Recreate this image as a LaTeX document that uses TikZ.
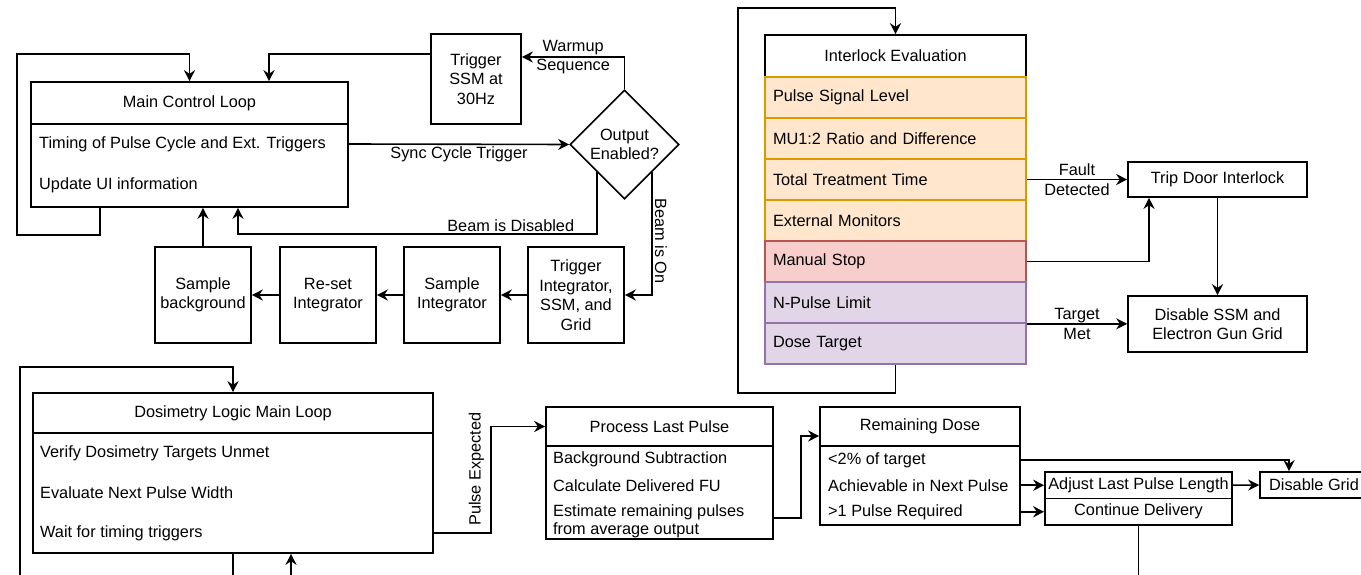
\documentclass[tikz,border=0pt]{standalone}
\usepackage{fontspec}
\setmainfont{Liberation Sans}
\usetikzlibrary{arrows.meta,shapes.geometric}

\definecolor{orfl}{HTML}{FFE6CC}
\definecolor{orln}{HTML}{D79B00}
\definecolor{rdfl}{HTML}{F8CECC}
\definecolor{rdln}{HTML}{B85450}
\definecolor{pufl}{HTML}{E1D5E7}
\definecolor{puln}{HTML}{9673A6}

\begin{document}
\begin{tikzpicture}[x=1pt, y=-1pt,
    font=\fontsize{16.3}{19.5}\selectfont,
    box/.style={draw, line width=1.6pt, inner sep=0pt, align=center},
    item/.style={anchor=west, inner sep=0pt},
    lbl/.style={inner sep=2pt, align=center},
    wire/.style={line width=1.6pt},
    arr/.style={line width=1.6pt, -{Stealth[length=11pt,width=11pt]}},
    ilrow/.style={draw, line width=1.6pt, minimum height=41pt, inner xsep=8pt,
        inner ysep=0pt, text width=245pt, align=left}]
    \useasboundingbox (0,0) rectangle (1361,575);
    \clip (0,0) rectangle (1361,575);

    % Main control loop
    \node[box, minimum width=317pt, minimum height=42pt] (mcl) at (189.5,103) {Main Control Loop};
    \node[box, minimum width=317pt, minimum height=83pt] (mclb) at (189.5,165.5) {};
    \node[item] (tim) at (39,144) {Timing of Pulse Cycle and Ext. Triggers};
    \node[item] (upd) at (39,185) {Update UI information};

    \node[box, minimum width=90pt, minimum height=90pt] (tssm) at (476,79) {Trigger\\SSM at\\30Hz};
    \node[box, diamond, minimum width=109pt, minimum height=109pt] (oe) at (624.5,144.5) {Output\\Enabled?};

    \node[box, minimum width=96pt, minimum height=96pt] (sb) at (203,295) {Sample\\background};
    \node[box, minimum width=96pt, minimum height=96pt] (ri) at (328,295) {Re-set\\Integrator};
    \node[box, minimum width=96pt, minimum height=96pt] (si) at (452,295) {Sample\\Integrator};
    \node[box, minimum width=96pt, minimum height=96pt] (ti) at (576,295) {Trigger\\Integrator,\\SSM, and\\Grid};

    \coordinate (mloop) at (17,54);
    \draw[arr] ([xshift=-89.5pt]mclb.south) -- ++(0,27) -| (mloop) -| (mcl.north);
    \draw[arr] ([yshift=25pt]tssm.west) -| ([xshift=79.5pt]mcl.north);
    \draw[arr] (oe.north) |- node[lbl, pos=0.75] {Warmup\\Sequence} ([yshift=22pt]tssm.east);
    \draw[arr] (tim -| mclb.east) -- node[lbl, below] {Sync Cycle Trigger} (oe.west);
    \draw[arr] (oe.south west) -- ++(0,62) -| node[lbl, above, pos=0.12] {Beam is Disabled} ([xshift=48.5pt]mclb.south);
    \draw[arr] (oe.south east) |- node[lbl, rotate=-90, anchor=south, pos=0.28] {Beam is On} (ti.east);
    \draw[arr] (ti) -- (si);
    \draw[arr] (si) -- (ri);
    \draw[arr] (ri) -- (sb);
    \draw[arr] (sb) -- (sb.north |- mclb.south);

    % Interlock evaluation
    \node[box, minimum width=261pt, minimum height=42pt] (ie) at (895.5,56) {Interlock Evaluation};
    \foreach \nm/\txt/\fl/\ln [count=\i] in {
        psl/Pulse Signal Level/orfl/orln,
        mur/MU1:2 Ratio and Difference/orfl/orln,
        ttt/Total Treatment Time/orfl/orln,
        exm/External Monitors/orfl/orln,
        mst/Manual Stop/rdfl/rdln,
        npl/N-Pulse Limit/pufl/puln,
        dtg/Dose Target/pufl/puln}{
        \node[ilrow, draw=\ln, fill=\fl] (\nm) at (895.5, 56.5+41*\i) {\txt};
    }

    \node[box, minimum width=179pt, minimum height=35pt] (td) at (1217.5,179.5) {Trip Door Interlock};
    \node[box, minimum width=179pt, minimum height=56pt] (dsg) at (1217.5,324) {Disable SSM and\\Electron Gun Grid};

    \coordinate (iloop) at (738,8);
    \draw[arr] (dtg.south) -- ++(0,28) -| (iloop) -| (ie.north);
    \draw[arr] (ttt.east) -- node[lbl] {Fault\\Detected} (td.west);
    \draw[arr] (mst.east) -| ([xshift=-68.5pt]td.south);
    \draw[arr] (td) -- (dsg);
    \draw[arr] (npl.south east) -- node[lbl] {Target\\Met} (npl.south east -| dsg.west);

    % Dosimetry logic
    \node[box, minimum width=400pt, minimum height=40pt] (dl) at (233,413) {Dosimetry Logic Main Loop};
    \node[box, minimum width=400pt, minimum height=120pt] (dlb) at (233,493) {};
    \node[item] (ver) at (40,453) {Verify Dosimetry Targets Unmet};
    \node[item] (eva) at (40,493) {Evaluate Next Pulse Width};
    \node[item] (wt) at (40,533) {Wait for timing triggers};

    \coordinate (dloop) at (20,367);
    \coordinate (dfeed) at (291,600);
    \draw[arr] (dlb.south) -- ++(0,45) -| (dloop) -| (dl.north);
    \draw[arr] (dfeed) -- (dfeed |- dlb.south);

    \node[box, minimum width=227pt, minimum height=39pt] (pl) at (659.5,426.5) {Process Last Pulse};
    \node[box, minimum width=227pt, minimum height=93pt] (plb) at (659.5,492.5) {};
    \node[item] (bgs) at (553,459) {Background Subtraction};
    \node[item] (cdf) at (553,486) {Calculate Delivered FU};
    \node[item, align=left, font=\fontsize{16.3}{18}\selectfont] (est) at (553,521) {Estimate remaining pulses\\from average output};

    \draw[arr] (wt -| dlb.east) -- ++(57,0) |- node[lbl, rotate=90, anchor=south, inner sep=6pt, pos=0.3] {Pulse Expected} (pl.west);

    \node[box, minimum width=200pt, minimum height=39pt] (rd) at (920,426.5) {Remaining Dose};
    \node[box, minimum width=200pt, minimum height=79pt] (rdb) at (920,485.5) {};
    \node[item] (lt) at (828,460) {<2\% of target};
    \node[item] (ach) at (828,486) {Achievable in Next Pulse};
    \node[item] (gt) at (828,512) {>1 Pulse Required};

    \draw[arr] ([yshift=-25.5pt]plb.east) -- ++(27,0) |- ([yshift=-9.5pt]rd.west);

    \node[box, minimum width=187pt, minimum height=26.5pt] (al) at (1138.5,485.25) {Adjust Last Pulse Length};
    \node[box, minimum width=187pt, minimum height=26.5pt] (cd) at (1138.5,511.75) {Continue Delivery};
    \node[box, minimum width=108pt, minimum height=26pt] (gd) at (1314,485) {Disable Grid};

    \draw[arr] (lt -| rdb.east) -| ([xshift=-25pt]gd.north);
    \draw[arr] (rdb.east |- al.west) -- (al.west);
    \draw[arr] (rdb.east |- cd.west) -- (cd.west);
    \draw[arr] (al) -- (gd);
    \draw[wire] (cd.south) -- ++(0,70);
\end{tikzpicture}
\end{document}
